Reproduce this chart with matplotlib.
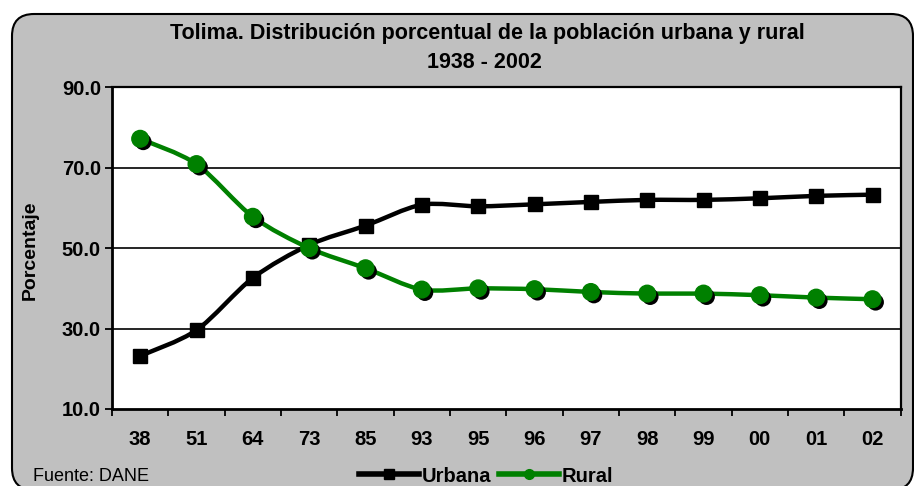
import numpy as np
import matplotlib
matplotlib.use('Agg')
import matplotlib.pyplot as plt
import matplotlib.patheffects as pe
from matplotlib.path import Path
from matplotlib.patches import PathPatch, FancyBboxPatch
from matplotlib.lines import Line2D
from matplotlib.transforms import IdentityTransform

# data
years = ['38', '51', '64', '73', '85', '93', '95', '96', '97', '98', '99', '00', '01', '02']
urbana = [23.2, 29.6, 42.6, 50.8, 55.6, 60.8, 60.4, 60.9, 61.5, 62.0, 62.0, 62.4, 63.0, 63.3]
rural = [77.2, 70.9, 57.8, 50.0, 45.0, 39.7, 40.0, 39.8, 39.1, 38.7, 38.7, 38.3, 37.7, 37.3]

grey = '#C0C0C0'
green = '#008000'

plt.rcParams['font.family'] = ['Liberation Sans', 'DejaVu Sans']


# smoothed line like excel (catmull-rom as bezier)
def smooth_path(x, y, k=7.0):
    pts = np.column_stack([x, y]).astype(float)
    verts = [pts[0]]
    codes = [Path.MOVETO]
    n = len(pts)
    for i in range(n - 1):
        p0 = pts[i - 1] if i > 0 else pts[i]
        p1 = pts[i]
        p2 = pts[i + 1]
        p3 = pts[i + 2] if i + 2 < n else pts[i + 1]
        c1 = p1 + (p2 - p0) / k
        c2 = p2 - (p3 - p1) / k
        verts += [c1, c2, p2]
        codes += [Path.CURVE4] * 3
    return Path(verts, codes)


fig = plt.figure(figsize=(9.14, 4.86), dpi=100)
fig.patch.set_facecolor('white')

# rounded grey chart area
box = FancyBboxPatch((12, -4), 901, 476, boxstyle='round,pad=0,rounding_size=22',
                     facecolor=grey, edgecolor='black', linewidth=1.5,
                     transform=IdentityTransform(), zorder=-1)
fig.add_artist(box)

ax = fig.add_axes([112 / 914, 1 - 409 / 486, (900.7 - 112) / 914, (409 - 87.3) / 486])
ax.set_facecolor('white')

x = np.arange(len(years))

ax.add_patch(PathPatch(smooth_path(x, urbana), fill=False, edgecolor='black', lw=3.2,
                       capstyle='round', joinstyle='round', zorder=3))
ax.plot(x, urbana, ls='none', marker='s', ms=10, color='black', zorder=4)

shadow = [pe.SimplePatchShadow(offset=(2.2, -2.2), shadow_rgbFace='black', alpha=1), pe.Normal()]
ax.add_patch(PathPatch(smooth_path(x, rural), fill=False, edgecolor=green, lw=3.2,
                       capstyle='round', joinstyle='round', zorder=5))
ax.plot(x, rural, ls='none', marker='o', ms=12, color=green, zorder=6, path_effects=shadow)

ax.set_xlim(-0.5, len(years) - 0.5)
ax.set_ylim(10, 90)
ax.set_yticks([10, 30, 50, 70, 90])
ax.set_yticklabels(['%.1f' % v for v in [10, 30, 50, 70, 90]], fontsize=14.5, fontweight='bold')
ax.set_xticks(x)
ax.set_xticklabels(years, fontsize=14.5, fontweight='bold')
ax.set_xticks(np.arange(-0.5, len(years)), minor=True)
ax.tick_params(axis='x', which='major', length=0, pad=15)
ax.tick_params(axis='x', which='minor', length=5, width=1.3, direction='out')
ax.tick_params(axis='y', length=5, width=1.3, direction='out', pad=3)

for v in [30, 50, 70]:
    ax.axhline(v, color='black', lw=1.2, zorder=1)

for s in ['left', 'bottom']:
    ax.spines[s].set_linewidth(2)
for s in ['top', 'right']:
    ax.spines[s].set_linewidth(1.6)

fig.text(487 / 914, 1 - 33 / 486, 'Tolima. Distribución porcentual de la población urbana y rural',
         ha='center', va='center', fontsize=15.5, fontweight='bold')
fig.text(484 / 914, 1 - 62 / 486, '1938 - 2002', ha='center', va='center',
         fontsize=15.5, fontweight='bold')
fig.text(30 / 914, 1 - 250 / 486, 'Porcentaje', rotation=90, ha='center', va='center',
         fontsize=14, fontweight='bold')
fig.text(33 / 914, 1 - 476 / 486, 'Fuente: DANE', ha='left', va='center', fontsize=13)

handles = [Line2D([], [], color='black', lw=4, marker='s', ms=7),
           Line2D([], [], color=green, lw=4, marker='o', ms=7)]
fig.legend(handles, ['Urbana', 'Rural'], loc='center', bbox_to_anchor=(486 / 914, 1 - 476 / 486),
           ncol=2, frameon=False, handlelength=3.0, handletextpad=0.1, columnspacing=0.4,
           prop={'size': 14.5, 'weight': 'bold'})

fig.savefig('out.png', dpi=100, facecolor=fig.get_facecolor())
